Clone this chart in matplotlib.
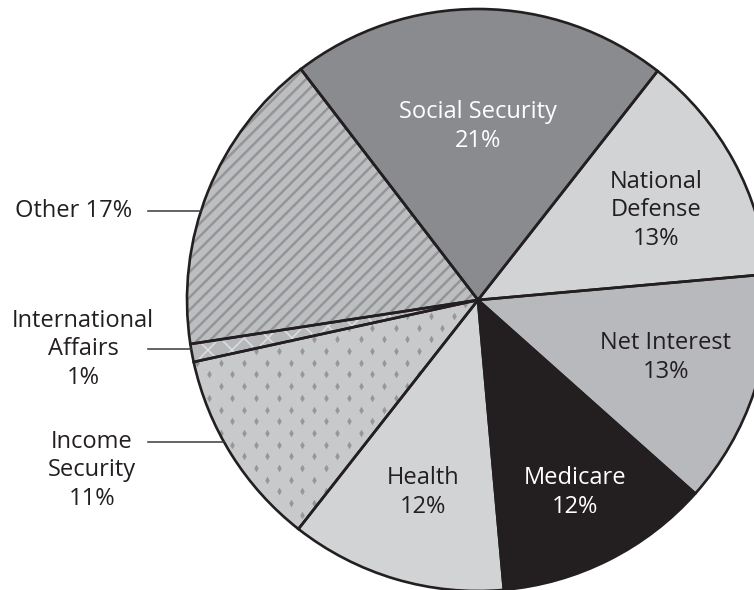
import numpy as np
import matplotlib.pyplot as plt
from matplotlib.collections import LineCollection

# Federal spending by category, clockwise from the top
categories = ['Social Security', 'National Defense', 'Net Interest', 'Medicare',
              'Health', 'Income Security', 'International Affairs', 'Other']
shares = [21, 13, 13, 12, 12, 11, 1, 17]
colors = ['#8a8b8e', '#d1d3d4', '#b8b9bc', '#231f20',
          '#d1d3d4', '#c8c9cb', '#b7b8bb', '#bcbec0']

# labels drawn inside the wedges / outside with a leader line
# (x, baseline of the last line in pixels from the top)
inside_labels = {
    'Social Security': ('Social Security\n21%', 478, 147, 'white'),
    'National Defense': ('National\nDefense\n13%', 656, 245, '#231f20'),
    'Net Interest': ('Net Interest\n13%', 666, 378, '#231f20'),
    'Medicare': ('Medicare\n12%', 575, 513, 'white'),
    'Health': ('Health\n12%', 423, 513, '#231f20'),
}
outside_labels = {
    'Other': ('Other 17%', 132, 'right', 217, 211),
    'International Affairs': ('International\nAffairs\n1%', 83, 'center', 384, 349),
    'Income Security': ('Income\nSecurity\n11%', 92, 'center', 505, 442),
}

W, H = 754, 590
CX, CY, R = 478, H - 300, 291
INK = '#231f20'

plt.rcParams['font.family'] = ['Open Sans', 'DejaVu Sans']

fig = plt.figure(figsize=(W / 100, H / 100), dpi=100)
ax = fig.add_axes([0, 0, 1, 1])

# faces first, textures on top, outlines last
wedges, _ = ax.pie(shares, colors=colors, startangle=127.5, counterclock=False,
                   radius=R, center=(CX, CY), wedgeprops=dict(linewidth=0, zorder=1))
edges, _ = ax.pie(shares, startangle=127.5, counterclock=False,
                  radius=R, center=(CX, CY),
                  wedgeprops=dict(fill=False, edgecolor=INK, linewidth=1.9, zorder=3))

idx = {c: i for i, c in enumerate(categories)}

# diagonal stripes on "Other"
offs = np.arange(-700, 700, 12.7)
stripes = LineCollection([[(x0, 0), (x0 + H, H)] for x0 in offs],
                         colors='#939598', linewidths=1.8, zorder=2)
ax.add_collection(stripes)
stripes.set_clip_path(wedges[idx['Other']])

# white cross-hatch on "International Affairs"
offs = np.arange(-800, 1600, 24)
cross = LineCollection([[(x0, 0), (x0 + H, H)] for x0 in offs] +
                       [[(x0, 0), (x0 - H, H)] for x0 in offs],
                       colors='#dddee0', linewidths=1.1, zorder=2)
ax.add_collection(cross)
cross.set_clip_path(wedges[idx['International Affairs']])

# staggered diamond dots on "Income Security"
k = np.arange(-30, 30)
m = np.arange(-20, 20)
kk, mm = np.meshgrid(k, m)
dx = 255.7 + (kk % 2) * 11.7 + mm * 23.3
dy = 239 + kk * 11.7
dots = ax.scatter(dx.ravel(), dy.ravel(), marker='d', s=15, color='#96979a',
                  linewidths=0, zorder=2)
dots.set_clip_path(wedges[idx['Income Security']])

for name, (txt, x, y, col) in inside_labels.items():
    ax.text(x, H - y, txt, ha='center', va='baseline', multialignment='center',
            fontsize=17, color=col, linespacing=1.26, zorder=5)

for name, (txt, x, ha, y, ly) in outside_labels.items():
    ax.text(x, H - y, txt, ha=ha, va='baseline', multialignment='center',
            fontsize=17, color=INK, linespacing=1.26, zorder=5)
    yd = H - ly
    edge_x = CX - np.sqrt(R ** 2 - (CY - yd) ** 2)
    ax.plot([148, edge_x], [yd, yd], color='#3a3a3c', linewidth=1.1, zorder=4)

ax.set_xlim(0, W)
ax.set_ylim(0, H)
ax.set_aspect('equal')
ax.axis('off')

fig.savefig('out.png', dpi=100)
